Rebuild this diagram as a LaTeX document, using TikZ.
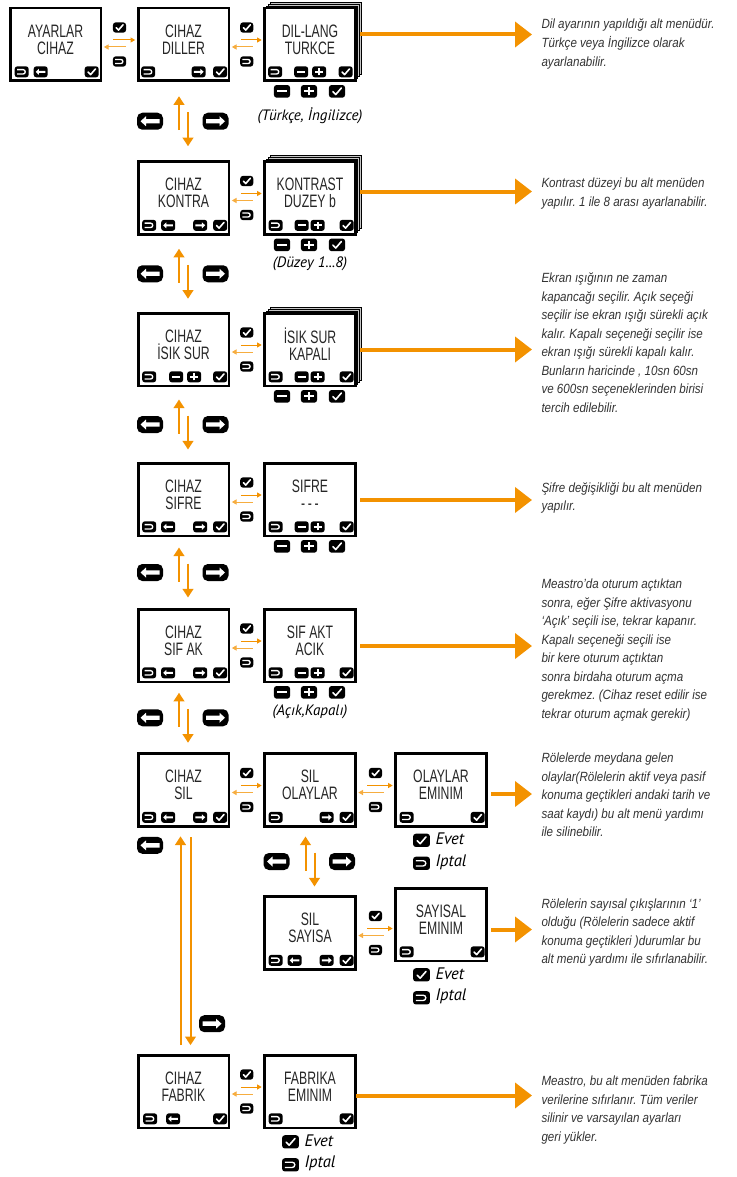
\documentclass[tikz,border=0pt]{standalone}
\usepackage{fontspec}
\usetikzlibrary{calc,arrows.meta,backgrounds}
\newfontfamily\lcdfont[FakeStretch=0.68]{Liberation Sans}
\newfontfamily\descfont[FakeStretch=0.87]{Liberation Sans}
\newfontfamily\capfont{PT Sans}
\definecolor{orng}{RGB}{243,146,0}
\frenchspacing

% key icons (drawn in picture units)
\newcommand\ikbody{\fill[black,rounded corners=2pt] (-7,-5.5) rectangle (7,5.5);}
\newcommand\ikchk{\ikbody\draw[white,line width=1.2pt,line cap=round,line join=round] (-3.6,-0.2) -- (-1.1,-2.8) -- (3.8,2.9);}
\newcommand\ikret{\ikbody\draw[white,line width=1pt] (-4.6,-2.2) -- (1.4,-2.2) arc[start angle=-90,end angle=90,radius=2.2] -- (-4.6,2.2);}
\newcommand\ikmns{\ikbody\draw[white,line width=1.6pt] (-4,0) -- (4,0);}
\newcommand\ikpls{\ikbody\draw[white,line width=1.4pt] (-4,0) -- (4,0) (0,-3.6) -- (0,3.6);}
\newcommand\iklft{\ikbody\fill[white] (-5,0) -- (-1.8,-3) -- (-1.8,-1) -- (4.8,-1) -- (4.8,1) -- (-1.8,1) -- (-1.8,3) -- cycle;}
\newcommand\ikrgt{\ikbody\fill[white] (5,0) -- (1.8,-3) -- (1.8,-1) -- (-4.8,-1) -- (-4.8,1) -- (1.8,1) -- (1.8,3) -- cycle;}
\newcommand\ikbiglft{\fill[black,rounded corners=4pt] (-13,-8.5) rectangle (13,8.5);
  \fill[white] (-9.5,0) -- (-4,-5) -- (-4,-2.2) -- (9.5,-2.2) -- (9.5,2.2) -- (-4,2.2) -- (-4,5) -- cycle;}
\newcommand\ikbigrgt{\fill[black,rounded corners=4pt] (-13,-8.5) rectangle (13,8.5);
  \fill[white] (9.5,0) -- (4,-5) -- (4,-2.2) -- (-9.5,-2.2) -- (-9.5,2.2) -- (4,2.2) -- (4,5) -- cycle;}

\tikzset{every picture/.style={line width=0.75pt}}
\tikzset{
  pics/ikon/.style={code={\csname ik#1\endcsname}},
  scr/.style={draw,line width=2pt,fill=white,minimum width=68pt,minimum height=54.5pt,inner sep=0pt,outer sep=0pt},
  lcd/.style={font=\lcdfont\fontsize{13.5}{12.75}\selectfont,text=black!85,align=center,inner sep=0pt},
  desc/.style={font=\descfont\itshape\fontsize{10}{13.9}\selectfont,text=black!80,align=left,anchor=west,inner sep=0pt},
  capt/.style={font=\capfont\itshape\fontsize{11.3}{12}\selectfont,inner sep=0pt},
  barr/.style={orng,line width=3pt,-{Triangle[length=12.75pt,width=18.75pt]}},
  varr/.style={orng,line width=1.5pt,-{Triangle[length=6.5pt,width=8pt]}},
  sarr/.style={orng,line width=.75pt,-{Triangle[length=3.5pt,width=3.8pt]}},
}

\newcommand\screen[4]{\node[scr] (#1) at (#2,#3) {};
  \node[lcd] (#1-t) at ($(#1)+(0,-5)$) {#4};}
\newcommand\keys[2]{\foreach \k/\o in {#2} \pic at ($(#1.south west)+(\o,-9)$) {ikon=\k};}
\newcommand\stackbehind[1]{\begin{scope}[on background layer]
  \foreach \s in {3,2,1} \draw[fill=gray!45,line width=.5pt] ($(#1.south west)+(2*\s,-2*\s)$) rectangle ($(#1.north east)+(2*\s,-2*\s)$);
  \end{scope}}
\newcommand\sidelink[2]{\coordinate (#1-#2) at ($(#1.east)!.5!(#2.west |- #1.east)$);
  \pic[scale=.93] at ($(#1-#2)+(0,-17)$) {ikon=chk};
  \pic[scale=.93] at ($(#1-#2)+(0,17)$) {ikon=ret};
  \draw[sarr] ($(#1.east)+(12,-4.5)$) -- ($(#2.west |- #1.east)+(-3,-4.5)$);
  \draw[sarr,orng!75] ($(#2.west |- #1.east)+(-12,2.5)$) -- ($(#1.east)+(3,2.5)$);}
\newcommand\updown[2]{\coordinate (#1-#2) at ($(#1.south)!.5!(#2.north)$);
  \draw[varr] ($(#1-#2)+(-4.5,9)$) -- ($(#1-#2)+(-4.5,-25)$);
  \draw[varr] ($(#1-#2)+(4.5,-9)$) -- ($(#1-#2)+(4.5,25)$);
  \pic at ($(#1-#2)+(-33.5,0)$) {ikon=biglft};
  \pic at ($(#1-#2)+(32,0)$) {ikon=bigrgt};}
\newcommand\adjkeys[1]{\foreach \k/\o in {mns/-28,pls/-1,chk/27} \pic[scale=1.15] at ($(#1.south)+(\o,10.5)$) {ikon=\k};}
\newcommand\okcancel[1]{\pic[scale=1.2] at ($(#1.south)+(-19.5,14)$) {ikon=chk};
  \node[capt,anchor=west] (#1-ok) at ($(#1.south)+(-6,12.5)$) {\fontsize{12.5}{13}\selectfont Evet};
  \pic[scale=1.2] at ($(#1.south)+(-19.5,37)$) {ikon=ret};
  \node[capt,anchor=west] (#1-no) at ($(#1.south)+(-6,35.5)$) {\fontsize{12.5}{13}\selectfont Iptal};}

\begin{document}
\begin{tikzpicture}[x=0.75pt,y=0.75pt,yscale=-1,xscale=1]
	\useasboundingbox (0,0) rectangle (737,1177);
	
	%Screens
	\screen{ayar}{55.5}{44.5}{AYARLAR\\CIHAZ}
	\screen{dil}{183.5}{44.5}{CIHAZ\\DILLER}
	\screen{dillang}{310}{44.5}{DIL-LANG\\TURKCE}
	\screen{kontra}{183.5}{198}{CIHAZ\\KONTRA}
	\screen{kontrast}{310}{198}{KONTRAST\\DUZEY b}
	\screen{isik}{183.5}{349.5}{CIHAZ\\İSIK SUR}
	\screen{isiksur}{310}{349.5}{İSIK SUR\\KAPALI}
	\screen{sifre}{183.5}{499.5}{CIHAZ\\SIFRE}
	\screen{sifre2}{310}{499.5}{SIFRE\\-\kern2pt-\kern2pt-}
	\screen{sifak}{183.5}{645.5}{CIHAZ\\SIF AK}
	\screen{sifakt}{310}{645.5}{SIF AKT\\ACIK}
	\screen{sil}{183.5}{790}{CIHAZ\\SIL}
	\screen{silol}{310}{790}{SIL\\OLAYLAR}
	\screen{olaylar}{441}{790}{OLAYLAR\\EMINIM}
	\screen{silsay}{310}{933}{SIL\\SAYISA}
	\screen{sayisal}{441}{924.5}{SAYISAL\\EMINIM}
	\screen{fabrik}{183.5}{1091.5}{CIHAZ\\FABRIK}
	\screen{fabrika}{310}{1091.5}{FABRIKA\\EMINIM}
	\stackbehind{dillang}
	\stackbehind{kontrast}
	\stackbehind{isiksur}
	
	%Keys on the screens
	\keys{ayar}{ret/11.5,lft/30.5,chk/81.5}
	\keys{dil}{ret/10,rgt/60.5,chk/82}
	\keys{dillang}{ret/10.5,mns/36.5,pls/54.5,chk/81}
	\keys{kontra}{ret/11,lft/30,rgt/62,chk/82}
	\keys{kontrast}{ret/11,mns/37,pls/53,chk/82}
	\keys{isik}{ret/11,mns/38,pls/56,chk/82}
	\keys{isiksur}{ret/11,mns/37,pls/53,chk/82}
	\keys{sifre}{ret/11,lft/30,rgt/62,chk/82}
	\keys{sifre2}{ret/11,mns/37,pls/53,chk/82}
	\keys{sifak}{ret/11,lft/30,rgt/62,chk/82}
	\keys{sifakt}{ret/11,mns/37,pls/53,chk/82}
	\keys{sil}{ret/11,lft/30,rgt/62,chk/82}
	\keys{silol}{ret/11,rgt/62,chk/82}
	\keys{olaylar}{ret/11,chk/82}
	\keys{silsay}{ret/11,lft/30,rgt/62,chk/82}
	\keys{sayisal}{ret/11,chk/82}
	\keys{fabrik}{ret/12,lft/35,chk/82}
	\keys{fabrika}{ret/11,chk/82}
	
	%Links between screens
	\sidelink{ayar}{dil}
	\sidelink{dil}{dillang}
	\sidelink{kontra}{kontrast}
	\sidelink{isik}{isiksur}
	\sidelink{sifre}{sifre2}
	\sidelink{sifak}{sifakt}
	\sidelink{sil}{silol}
	\sidelink{silol}{olaylar}
	\sidelink{silsay}{sayisal}
	\sidelink{fabrik}{fabrika}
	\updown{dil}{kontra}
	\updown{kontra}{isik}
	\updown{isik}{sifre}
	\updown{sifre}{sifak}
	\updown{sifak}{sil}
	\updown{silol}{silsay}
	\draw[varr] ($(fabrik.north)+(-3,-10)$) -- ($(sil.south)+(-3,10)$);
	\draw[varr] ($(sil.south)+(7,11)$) -- ($(fabrik.north)+(7,-10)$);
	\pic at ($(sil.south)+(-33.5,19)$) {ikon=biglft};
	\pic at ($(fabrik.north)+(28.5,-31.5)$) {ikon=bigrgt};
	
	%Keys and values under the screens
	\adjkeys{dillang}
	\adjkeys{kontrast}
	\adjkeys{isiksur}
	\adjkeys{sifre2}
	\adjkeys{sifakt}
	\node[capt] (dillang-v) at ($(dillang.south)+(0,35)$) {(Türkçe, İngilizce)};
	\node[capt] (kontrast-v) at ($(kontrast.south)+(0,29)$) {(Düzey 1...8)};
	\node[capt] (sifakt-v) at ($(sifakt.south)+(0,30)$) {(Açık,Kapalı)};
	\okcancel{olaylar}
	\okcancel{sayisal}
	\okcancel{fabrika}
	
	% Text Node
	\node[desc] (d1) at (541,44) {Dil ayarının yapıldığı alt menüdür.\\Türkçe veya İngilizce olarak\\ayarlanabilir.};
	% Text Node
	\node[desc] (d2) at (541,193.5) {Kontrast düzeyi bu alt menüden\\yapılır. 1 ile 8 arası ayarlanabilir.};
	% Text Node
	\node[desc] (d3) at (541,342.5) {Ekran ışığının ne zaman\\kapancağı seçilir. Açık seçeği\\seçilir ise ekran ışığı sürekli açık\\kalır. Kapalı seçeneği seçilir ise\\ekran ışığı sürekli kapalı kalır.\\Bunların haricinde , 10sn 60sn\\ve 600sn seçeneklerinden birisi\\tercih edilebilir.};
	% Text Node
	\node[desc] (d4) at (541,498) {Şifre değişikliği bu alt menüden\\yapılır.};
	% Text Node
	\node[desc] (d5) at (541,650) {Meastro’da oturum açtıktan\\sonra, eğer Şifre aktivasyonu\\‘Açık’ seçili ise, tekrar kapanır.\\Kapalı seçeneği seçili ise\\bir kere oturum açtıktan\\sonra birdaha oturum açma\\gerekmez. (Cihaz reset edilir ise\\tekrar oturum açmak gerekir)};
	% Text Node
	\node[desc] (d6) at (541,795) {Rölelerde meydana gelen\\olaylar(Rölelerin aktif veya pasif\\konuma geçtikleri andaki tarih ve\\saat kaydı) bu alt menü yardımı\\ile silinebilir.};
	% Text Node
	\node[desc] (d7) at (541,932.5) {Rölelerin sayısal çıkışlarının ‘1’\\olduğu (Rölelerin sadece aktif\\konuma geçtikleri )durumlar bu\\alt menü yardımı ile sıfırlanabilir.};
	% Text Node
	\node[desc] (d8) at (541,1110) {Meastro, bu alt menüden fabrika\\verilerine sıfırlanır. Tüm veriler\\silinir ve varsayılan ayarları\\geri yükler.};
	
	%Arrows to the notes
	\draw[barr] ($(dillang.east)+(5,-10)$) -- ($(d1.west |- dillang.east)+(-9,-10)$);
	\draw[barr] ($(kontrast.east)+(5,-6.5)$) -- ($(d2.west |- kontrast.east)+(-9,-6.5)$);
	\draw[barr] ($(isiksur.east)+(5,0)$) -- ($(d3.west |- isiksur.east)+(-9,0)$);
	\draw[barr] ($(sifre2.east)+(5,0.5)$) -- ($(d4.west |- sifre2.east)+(-9,0.5)$);
	\draw[barr] ($(sifakt.east)+(5,0.5)$) -- ($(d5.west |- sifakt.east)+(-9,0.5)$);
	\draw[barr] ($(olaylar.east)+(5,4)$) -- ($(d6.west |- olaylar.east)+(-9,4)$);
	\draw[barr] ($(sayisal.east)+(5,5)$) -- ($(d7.west |- sayisal.east)+(-9,5)$);
	\draw[barr] ($(fabrika.east)+(1,4)$) -- ($(d8.west |- fabrika.east)+(-9,4)$);
	
\end{tikzpicture}
\end{document}
